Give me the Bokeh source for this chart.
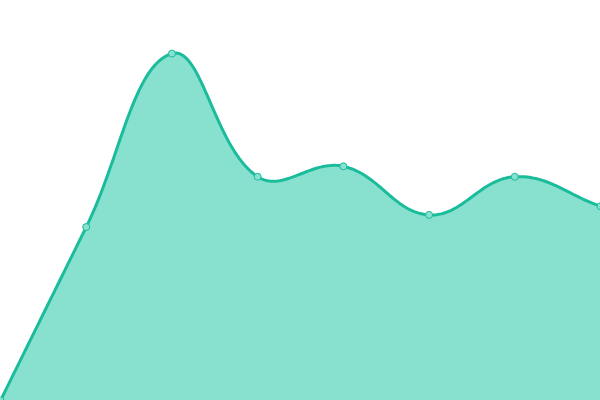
import numpy as np
from bokeh.plotting import figure
from bokeh.embed import file_html
from bokeh.resources import INLINE
from bokeh.models import ColumnDataSource

# ---- data ----
categories = ["A", "B", "C", "D", "E", "F", "G", "H"]
values = [0, 50, 100, 64.5, 67.5, 53.5, 64.5, 56]
y_max = 115.3

LINE = "#1abc9c"
FILL = "#88e0cf"

W, H = 600, 400
n = len(values)
xs = np.arange(n, dtype=float)
ys = np.array(values, dtype=float)

# Chart.js-style spline (tension 0.4) computed in pixel space
sx = W / (n - 1)
sy = H / y_max
px = xs * sx
py = ys * sy
t = 0.4
cp_prev = []
cp_next = []
for i in range(n):
    p0 = (px[max(i - 1, 0)], py[max(i - 1, 0)])
    p1 = (px[i], py[i])
    p2 = (px[min(i + 1, n - 1)], py[min(i + 1, n - 1)])
    d01 = np.hypot(p1[0] - p0[0], p1[1] - p0[1])
    d12 = np.hypot(p2[0] - p1[0], p2[1] - p1[1])
    tot = d01 + d12
    s01 = d01 / tot if tot else 0
    s12 = d12 / tot if tot else 0
    fa, fb = t * s01, t * s12
    cp_prev.append((p1[0] - fa * (p2[0] - p0[0]), p1[1] - fa * (p2[1] - p0[1])))
    cp_next.append((p1[0] + fb * (p2[0] - p0[0]), p1[1] + fb * (p2[1] - p0[1])))

def cap(v, lo, hi):
    return min(max(v, lo), hi)

cx, cy = [], []
tt = np.linspace(0, 1, 40)
for i in range(n - 1):
    a = np.array([px[i], py[i]])
    b = np.array([cap(cp_next[i][0], 0, W), cap(cp_next[i][1], 0, H)])
    c = np.array([cap(cp_prev[i + 1][0], 0, W), cap(cp_prev[i + 1][1], 0, H)])
    d = np.array([px[i + 1], py[i + 1]])
    seg = ((1 - tt)[:, None] ** 3 * a + 3 * ((1 - tt) ** 2 * tt)[:, None] * b
           + 3 * ((1 - tt) * tt ** 2)[:, None] * c + (tt ** 3)[:, None] * d)
    if i > 0:
        seg = seg[1:]
    cx.extend(seg[:, 0] / sx)
    cy.extend(seg[:, 1] / sy)

curve = ColumnDataSource(dict(x=cx, y=cy, y0=[0] * len(cx)))
pts = ColumnDataSource(dict(x=xs, y=ys))

p = figure(width=W, height=H, output_backend="svg", toolbar_location=None,
           x_range=(0, n - 1), y_range=(0, y_max), min_border=0,
           background_fill_color="white", border_fill_color="white")
p.axis.visible = False
p.grid.visible = False
p.outline_line_color = None

p.varea(x="x", y1="y0", y2="y", source=curve, fill_color=FILL)
p.line(x="x", y="y", source=curve, line_color=LINE, line_width=3, line_join="round")
p.scatter(x="x", y="y", source=pts, size=7, fill_color=FILL, line_color=LINE, line_width=1)

open("out.html", "w").write(file_html(p, INLINE))
